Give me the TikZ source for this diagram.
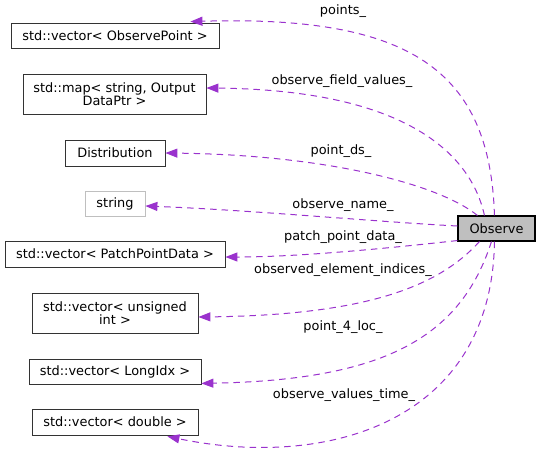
\documentclass[tikz,border=0pt]{standalone}
\usepackage{fontspec}
\setmainfont{DejaVu Sans}
\usetikzlibrary{arrows.meta,calc}
\definecolor{edgec}{HTML}{9A32CD}
\definecolor{obsfill}{HTML}{BFBFBF}
\begin{document}
\begin{tikzpicture}[x=1pt,y=-1pt,
  box/.style={draw=black!80,line width=0.8pt,inner sep=0pt,align=center,
    font=\fontsize{12.9}{13.5}\selectfont},
  lbl/.style={inner sep=0pt,font=\fontsize{12.9}{13.5}\selectfont},
  rel/.style={draw=edgec,line width=1pt,dash pattern=on 6.5pt off 5pt,
    -{Triangle[length=12pt,width=9pt,fill=edgec]}}]
\useasboundingbox (0,0) rectangle (540,453);

% class nodes
\node[box,minimum width=208pt,minimum height=25pt] (n1) at (115,35.5) {std::vector< ObservePoint >};
\node[box,minimum width=183pt,minimum height=40pt] (n2) at (114.5,94) {std::map< string, Output\\DataPtr >};
\node[box,minimum width=100pt,minimum height=26pt] (n3) at (115,153) {Distribution};
\node[box,draw=obsfill,minimum width=60pt,minimum height=25pt] (n4) at (115,203.5) {string};
\node[box,minimum width=220pt,minimum height=26pt] (n5) at (115,254) {std::vector< PatchPointData >};
\node[box,minimum width=166pt,minimum height=40pt] (n6) at (115,313) {std::vector< unsigned\\int >};
\node[box,minimum width=172pt,minimum height=25pt] (n7) at (115,371.5) {std::vector< LongIdx >};
\node[box,minimum width=166pt,minimum height=26pt] (n8) at (115,422) {std::vector< double >};
\node[box,draw=black,line width=1.1pt,fill=obsfill,minimum width=77pt,minimum height=25pt] (obs) at (496.5,228.5) {Observe};

% edge labels
\node[lbl] (l1) at (343,11) {points\_};
\node[lbl] (l2) at (342,81) {observe\_field\_values\_};
\node[lbl] (l3) at (341,151) {point\_ds\_};
\node[lbl] (l4) at (343,205) {observe\_name\_};
\node[lbl] (l5) at (343,237) {patch\_point\_data\_};
\node[lbl] (l6) at (343,270) {observed\_element\_indices\_};
\node[lbl] (l7) at (343,327) {point\_4\_loc\_};
\node[lbl] (l8) at (344,395) {observe\_values\_time\_};

% connectors
\draw[rel] ($(obs.north west)+(37,0)$) .. controls (490,70) and (410,15) .. ($(n1.north east)+(-29,-1)$);
\draw[rel] ($(obs.north west)+(27,0)$) .. controls (470,150) and (400,90) .. ($(n2.east)+(0,-6)$);
\draw[rel] ($(obs.north west)+(20,0)$) .. controls (440,185) and (330,155) .. (n3.east);
\draw[rel] ($(obs.west)+(0,-2.5)$) .. controls (380,222) and (250,210) .. ($(n4.east)+(0,2.5)$);
\draw[rel] ($(obs.south west)+(0,-1)$) .. controls (390,248) and (300,257) .. ($(n5.east)+(0,3)$);
\draw[rel] ($(obs.south west)+(22,0)$) .. controls (440,285) and (370,315) .. ($(n6.east)+(0,4)$);
\draw[rel] ($(obs.south west)+(34,0)$) .. controls (460,340) and (380,380) .. ($(n7.south east)+(0,-1)$);
\draw[rel] ($(obs.south west)+(37,0)$) .. controls (492,420) and (330,470) .. ($(n8.south east)+(-31,1)$);
\end{tikzpicture}
\end{document}
